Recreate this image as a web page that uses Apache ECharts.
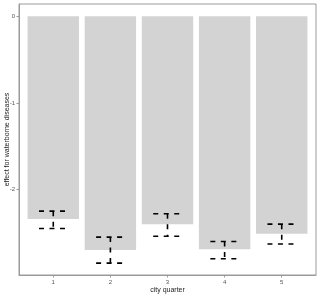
<!DOCTYPE html>
<html><head><meta charset="utf-8">
<script src="https://cdn.jsdelivr.net/npm/echarts@6/dist/echarts.min.js"></script>
<style>html,body{margin:0;padding:0;background:#fff}#c{width:320px;height:297px}</style>
</head><body><div id="c"></div>
<script>
const categories = [1, 2, 3, 4, 5];
const effect = [-2.34, -2.70, -2.40, -2.69, -2.51];
const upper = [-2.25, -2.55, -2.28, -2.60, -2.40];
const lower = [-2.45, -2.85, -2.54, -2.80, -2.63];
const yTicks = [-2, -1, 0];

const barData = categories.map((c, i) => [c, effect[i]]);
const errData = categories.map((c, i) => [c, upper[i], lower[i]]);

const chart = echarts.init(document.getElementById('c'), null, {renderer: 'canvas'});
const axisGray = '#9a9a9a';
const labelStyle = {color: '#555', fontSize: 6, fontFamily: 'Liberation Sans, Arial, sans-serif'};
chart.setOption({
  animation: false,
  grid: {left: 19, right: 4, top: 4, bottom: 22, show: true, borderColor: axisGray, borderWidth: 1, backgroundColor: '#fff',
         containLabel: false, outerBoundsMode: 'none'},
  xAxis: {
    type: 'value', min: 0.4, max: 5.6,
    name: 'city quarter', nameLocation: 'middle', nameGap: 12, nameMoveOverlap: false,
    nameTextStyle: {color: '#222', fontSize: 7, fontFamily: 'Liberation Sans, Arial, sans-serif'},
    axisLine: {show: true, onZero: false, lineStyle: {color: axisGray}},
    axisTick: {show: true, customValues: categories, length: 2.5, lineStyle: {color: axisGray}},
    axisLabel: Object.assign({customValues: categories, margin: 4}, labelStyle),
    splitLine: {show: false}
  },
  yAxis: {
    type: 'value', min: -2.9875, max: 0.1425,
    name: 'effect for waterborne diseases', nameLocation: 'middle', nameGap: 8, nameMoveOverlap: false,
    nameTextStyle: {color: '#222', fontSize: 7, fontFamily: 'Liberation Sans, Arial, sans-serif'},
    axisLine: {show: true, onZero: false, lineStyle: {color: axisGray}},
    axisTick: {show: true, customValues: yTicks, length: 2.5, lineStyle: {color: axisGray}},
    axisLabel: Object.assign({customValues: yTicks, margin: 4}, labelStyle),
    splitLine: {show: false}
  },
  series: [
    {
      type: 'custom', data: barData, clip: true,
      renderItem: function (params, api) {
        const x = api.value(0), v = api.value(1);
        const p0 = api.coord([x - 0.45, 0]);
        const p1 = api.coord([x + 0.45, v]);
        return {type: 'rect', shape: {x: p0[0], y: p0[1], width: p1[0] - p0[0], height: p1[1] - p0[1]},
          style: {fill: '#d3d3d3'}};
      }
    },
    {
      type: 'custom', data: errData, clip: true,
      renderItem: function (params, api) {
        const x = api.value(0), u = api.value(1), l = api.value(2);
        const tl = api.coord([x - 0.25, u]), tr = api.coord([x + 0.25, u]);
        const bl = api.coord([x - 0.25, l]), br = api.coord([x + 0.25, l]);
        const cu = api.coord([x, u]), cl = api.coord([x, l]);
        const st = {stroke: '#000', lineWidth: 1.6, lineDash: [5, 5.5], fill: null};
        return {type: 'group', children: [
          {type: 'line', shape: {x1: tl[0], y1: tl[1], x2: tr[0], y2: tr[1]}, style: st},
          {type: 'line', shape: {x1: cu[0], y1: cu[1], x2: cl[0], y2: cl[1]}, style: st},
          {type: 'line', shape: {x1: bl[0], y1: bl[1], x2: br[0], y2: br[1]}, style: st}
        ]};
      }
    }
  ]
});
</script></body></html>
